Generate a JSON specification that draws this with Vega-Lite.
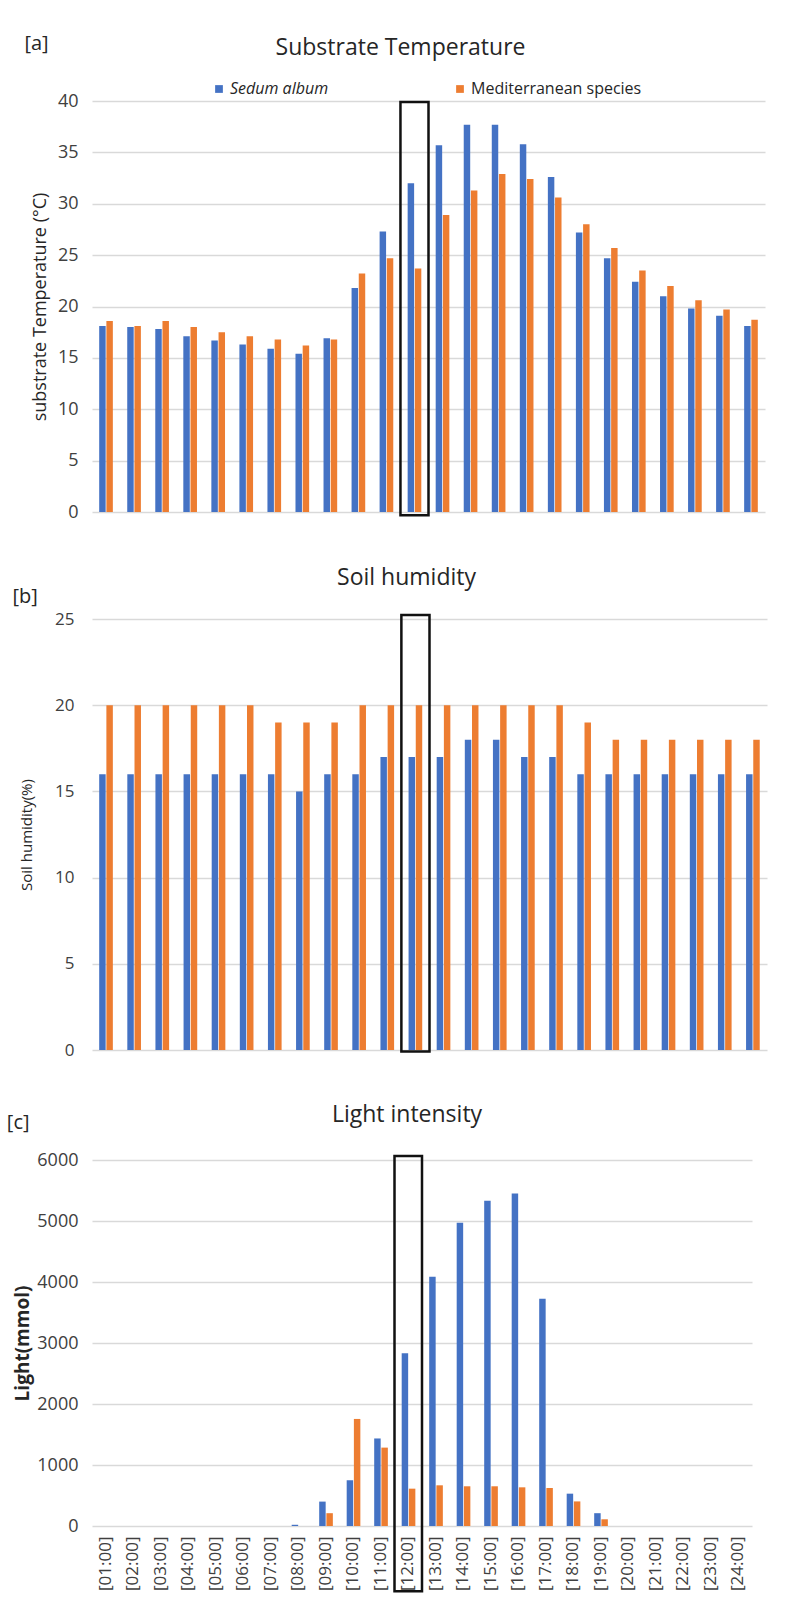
{
  "$schema": "https://vega.github.io/schema/vega-lite/v6.json",
  "background": "white",
  "padding": {"left": 6, "top": 34, "right": 5, "bottom": 5},
  "spacing": 46,
  "config": {
    "font": "Open Sans",
    "view": {"stroke": null},
    "title": {"fontWeight": "normal", "color": "#262626", "font": "Open Sans"},
    "axis": {
      "labelFont": "Open Sans",
      "labelColor": "#404040",
      "labelFontSize": 18,
      "titleFont": "Open Sans",
      "titleColor": "#262626",
      "titleFontSize": 15,
      "titleFontWeight": "normal",
      "gridColor": "#d9d9d9",
      "gridWidth": 1.5,
      "domain": false,
      "ticks": false
    }
  },
  "datasets": {
    "temp": [
      {"hour": "[01:00]", "series": "Sedum album", "value": 18.1}, {"hour": "[01:00]", "series": "Mediterranean species", "value": 18.6},
      {"hour": "[02:00]", "series": "Sedum album", "value": 18.0}, {"hour": "[02:00]", "series": "Mediterranean species", "value": 18.1},
      {"hour": "[03:00]", "series": "Sedum album", "value": 17.8}, {"hour": "[03:00]", "series": "Mediterranean species", "value": 18.6},
      {"hour": "[04:00]", "series": "Sedum album", "value": 17.1}, {"hour": "[04:00]", "series": "Mediterranean species", "value": 18.0},
      {"hour": "[05:00]", "series": "Sedum album", "value": 16.7}, {"hour": "[05:00]", "series": "Mediterranean species", "value": 17.5},
      {"hour": "[06:00]", "series": "Sedum album", "value": 16.3}, {"hour": "[06:00]", "series": "Mediterranean species", "value": 17.1},
      {"hour": "[07:00]", "series": "Sedum album", "value": 15.9}, {"hour": "[07:00]", "series": "Mediterranean species", "value": 16.8},
      {"hour": "[08:00]", "series": "Sedum album", "value": 15.4}, {"hour": "[08:00]", "series": "Mediterranean species", "value": 16.2},
      {"hour": "[09:00]", "series": "Sedum album", "value": 16.9}, {"hour": "[09:00]", "series": "Mediterranean species", "value": 16.8},
      {"hour": "[10:00]", "series": "Sedum album", "value": 21.8}, {"hour": "[10:00]", "series": "Mediterranean species", "value": 23.2},
      {"hour": "[11:00]", "series": "Sedum album", "value": 27.3}, {"hour": "[11:00]", "series": "Mediterranean species", "value": 24.7},
      {"hour": "[12:00]", "series": "Sedum album", "value": 32.0}, {"hour": "[12:00]", "series": "Mediterranean species", "value": 23.7},
      {"hour": "[13:00]", "series": "Sedum album", "value": 35.7}, {"hour": "[13:00]", "series": "Mediterranean species", "value": 28.9},
      {"hour": "[14:00]", "series": "Sedum album", "value": 37.7}, {"hour": "[14:00]", "series": "Mediterranean species", "value": 31.3},
      {"hour": "[15:00]", "series": "Sedum album", "value": 37.7}, {"hour": "[15:00]", "series": "Mediterranean species", "value": 32.9},
      {"hour": "[16:00]", "series": "Sedum album", "value": 35.8}, {"hour": "[16:00]", "series": "Mediterranean species", "value": 32.4},
      {"hour": "[17:00]", "series": "Sedum album", "value": 32.6}, {"hour": "[17:00]", "series": "Mediterranean species", "value": 30.6},
      {"hour": "[18:00]", "series": "Sedum album", "value": 27.2}, {"hour": "[18:00]", "series": "Mediterranean species", "value": 28.0},
      {"hour": "[19:00]", "series": "Sedum album", "value": 24.7}, {"hour": "[19:00]", "series": "Mediterranean species", "value": 25.7},
      {"hour": "[20:00]", "series": "Sedum album", "value": 22.4}, {"hour": "[20:00]", "series": "Mediterranean species", "value": 23.5},
      {"hour": "[21:00]", "series": "Sedum album", "value": 21.0}, {"hour": "[21:00]", "series": "Mediterranean species", "value": 22.0},
      {"hour": "[22:00]", "series": "Sedum album", "value": 19.8}, {"hour": "[22:00]", "series": "Mediterranean species", "value": 20.6},
      {"hour": "[23:00]", "series": "Sedum album", "value": 19.1}, {"hour": "[23:00]", "series": "Mediterranean species", "value": 19.7},
      {"hour": "[24:00]", "series": "Sedum album", "value": 18.1}, {"hour": "[24:00]", "series": "Mediterranean species", "value": 18.7}
    ],
    "hum": [
      {"hour": "[01:00]", "series": "Sedum album", "value": 16}, {"hour": "[01:00]", "series": "Mediterranean species", "value": 20},
      {"hour": "[02:00]", "series": "Sedum album", "value": 16}, {"hour": "[02:00]", "series": "Mediterranean species", "value": 20},
      {"hour": "[03:00]", "series": "Sedum album", "value": 16}, {"hour": "[03:00]", "series": "Mediterranean species", "value": 20},
      {"hour": "[04:00]", "series": "Sedum album", "value": 16}, {"hour": "[04:00]", "series": "Mediterranean species", "value": 20},
      {"hour": "[05:00]", "series": "Sedum album", "value": 16}, {"hour": "[05:00]", "series": "Mediterranean species", "value": 20},
      {"hour": "[06:00]", "series": "Sedum album", "value": 16}, {"hour": "[06:00]", "series": "Mediterranean species", "value": 20},
      {"hour": "[07:00]", "series": "Sedum album", "value": 16}, {"hour": "[07:00]", "series": "Mediterranean species", "value": 19},
      {"hour": "[08:00]", "series": "Sedum album", "value": 15}, {"hour": "[08:00]", "series": "Mediterranean species", "value": 19},
      {"hour": "[09:00]", "series": "Sedum album", "value": 16}, {"hour": "[09:00]", "series": "Mediterranean species", "value": 19},
      {"hour": "[10:00]", "series": "Sedum album", "value": 16}, {"hour": "[10:00]", "series": "Mediterranean species", "value": 20},
      {"hour": "[11:00]", "series": "Sedum album", "value": 17}, {"hour": "[11:00]", "series": "Mediterranean species", "value": 20},
      {"hour": "[12:00]", "series": "Sedum album", "value": 17}, {"hour": "[12:00]", "series": "Mediterranean species", "value": 20},
      {"hour": "[13:00]", "series": "Sedum album", "value": 17}, {"hour": "[13:00]", "series": "Mediterranean species", "value": 20},
      {"hour": "[14:00]", "series": "Sedum album", "value": 18}, {"hour": "[14:00]", "series": "Mediterranean species", "value": 20},
      {"hour": "[15:00]", "series": "Sedum album", "value": 18}, {"hour": "[15:00]", "series": "Mediterranean species", "value": 20},
      {"hour": "[16:00]", "series": "Sedum album", "value": 17}, {"hour": "[16:00]", "series": "Mediterranean species", "value": 20},
      {"hour": "[17:00]", "series": "Sedum album", "value": 17}, {"hour": "[17:00]", "series": "Mediterranean species", "value": 20},
      {"hour": "[18:00]", "series": "Sedum album", "value": 16}, {"hour": "[18:00]", "series": "Mediterranean species", "value": 19},
      {"hour": "[19:00]", "series": "Sedum album", "value": 16}, {"hour": "[19:00]", "series": "Mediterranean species", "value": 18},
      {"hour": "[20:00]", "series": "Sedum album", "value": 16}, {"hour": "[20:00]", "series": "Mediterranean species", "value": 18},
      {"hour": "[21:00]", "series": "Sedum album", "value": 16}, {"hour": "[21:00]", "series": "Mediterranean species", "value": 18},
      {"hour": "[22:00]", "series": "Sedum album", "value": 16}, {"hour": "[22:00]", "series": "Mediterranean species", "value": 18},
      {"hour": "[23:00]", "series": "Sedum album", "value": 16}, {"hour": "[23:00]", "series": "Mediterranean species", "value": 18},
      {"hour": "[24:00]", "series": "Sedum album", "value": 16}, {"hour": "[24:00]", "series": "Mediterranean species", "value": 18}
    ],
    "light": [
      {"hour": "[01:00]", "series": "Sedum album", "value": 0}, {"hour": "[01:00]", "series": "Mediterranean species", "value": 0},
      {"hour": "[02:00]", "series": "Sedum album", "value": 0}, {"hour": "[02:00]", "series": "Mediterranean species", "value": 0},
      {"hour": "[03:00]", "series": "Sedum album", "value": 0}, {"hour": "[03:00]", "series": "Mediterranean species", "value": 0},
      {"hour": "[04:00]", "series": "Sedum album", "value": 0}, {"hour": "[04:00]", "series": "Mediterranean species", "value": 0},
      {"hour": "[05:00]", "series": "Sedum album", "value": 0}, {"hour": "[05:00]", "series": "Mediterranean species", "value": 0},
      {"hour": "[06:00]", "series": "Sedum album", "value": 0}, {"hour": "[06:00]", "series": "Mediterranean species", "value": 0},
      {"hour": "[07:00]", "series": "Sedum album", "value": 0}, {"hour": "[07:00]", "series": "Mediterranean species", "value": 0},
      {"hour": "[08:00]", "series": "Sedum album", "value": 20}, {"hour": "[08:00]", "series": "Mediterranean species", "value": 0},
      {"hour": "[09:00]", "series": "Sedum album", "value": 400}, {"hour": "[09:00]", "series": "Mediterranean species", "value": 210},
      {"hour": "[10:00]", "series": "Sedum album", "value": 750}, {"hour": "[10:00]", "series": "Mediterranean species", "value": 1755},
      {"hour": "[11:00]", "series": "Sedum album", "value": 1435}, {"hour": "[11:00]", "series": "Mediterranean species", "value": 1285},
      {"hour": "[12:00]", "series": "Sedum album", "value": 2830}, {"hour": "[12:00]", "series": "Mediterranean species", "value": 612},
      {"hour": "[13:00]", "series": "Sedum album", "value": 4085}, {"hour": "[13:00]", "series": "Mediterranean species", "value": 667},
      {"hour": "[14:00]", "series": "Sedum album", "value": 4970}, {"hour": "[14:00]", "series": "Mediterranean species", "value": 651},
      {"hour": "[15:00]", "series": "Sedum album", "value": 5330}, {"hour": "[15:00]", "series": "Mediterranean species", "value": 651},
      {"hour": "[16:00]", "series": "Sedum album", "value": 5450}, {"hour": "[16:00]", "series": "Mediterranean species", "value": 634},
      {"hour": "[17:00]", "series": "Sedum album", "value": 3725}, {"hour": "[17:00]", "series": "Mediterranean species", "value": 623},
      {"hour": "[18:00]", "series": "Sedum album", "value": 530}, {"hour": "[18:00]", "series": "Mediterranean species", "value": 403},
      {"hour": "[19:00]", "series": "Sedum album", "value": 210}, {"hour": "[19:00]", "series": "Mediterranean species", "value": 110},
      {"hour": "[20:00]", "series": "Sedum album", "value": 0}, {"hour": "[20:00]", "series": "Mediterranean species", "value": 0},
      {"hour": "[21:00]", "series": "Sedum album", "value": 0}, {"hour": "[21:00]", "series": "Mediterranean species", "value": 0},
      {"hour": "[22:00]", "series": "Sedum album", "value": 0}, {"hour": "[22:00]", "series": "Mediterranean species", "value": 0},
      {"hour": "[23:00]", "series": "Sedum album", "value": 0}, {"hour": "[23:00]", "series": "Mediterranean species", "value": 0},
      {"hour": "[24:00]", "series": "Sedum album", "value": 0}, {"hour": "[24:00]", "series": "Mediterranean species", "value": 0}
    ],
    "boxA": [{"hour": "[12:00]", "top": 39.9, "bottom": -0.32}],
    "boxB": [{"hour": "[12:00]", "top": 25.23, "bottom": -0.08}],
    "boxC": [{"hour": "[12:00]", "top": 6065, "bottom": -1070}]
  },
  "resolve": {"scale": {"color": "independent"}, "legend": {"color": "independent"}},
  "vconcat": [
    {
      "title": {"text": "[a]", "anchor": "start", "fontSize": 20, "dx": -7, "dy": 17, "offset": 0},
      "vconcat": [
        {
          "width": 673,
          "height": 411,
          "title": {"text": "Substrate Temperature", "fontSize": 23, "offset": 32, "dx": -28},
          "layer": [
            {
              "data": {"name": "temp"},
              "mark": {"type": "bar"},
              "encoding": {
                "x": {"field": "hour", "type": "nominal", "title": null, "axis": {"labels": false, "ticks": false, "domain": false, "grid": false, "minExtent": 4, "maxExtent": 4}, "scale": {"paddingInner": 0, "paddingOuter": 0}},
                "xOffset": {"field": "series", "type": "nominal", "sort": ["Sedum album", "Mediterranean species"], "scale": {"paddingInner": 0.1, "paddingOuter": 1.13}},
                "y": {"field": "value", "type": "quantitative", "scale": {"domain": [0, 40], "nice": false}, "axis": {"values": [0, 5, 10, 15, 20, 25, 30, 35, 40], "title": "substrate Temperature (°C)", "titleFontSize": 18, "titlePadding": 8, "labelPadding": 14}},
                "color": {
                  "field": "series", "type": "nominal",
                  "scale": {"domain": ["Sedum album", "Mediterranean species"], "range": ["#4472C4", "#ED7D31"]},
                  "legend": {
                    "title": null, "orient": "none", "legendX": 119, "legendY": -20, "direction": "horizontal",
                    "columns": 2, "columnPadding": 123, "symbolType": "square", "symbolSize": 60, "symbolStrokeWidth": 0,
                    "labelFontSize": 16, "labelFont": "Open Sans", "labelColor": "#262626", "labelOffset": 3, "labelLimit": 400,
                    "encode": {"labels": {"update": {"fontStyle": {"signal": "datum.label === 'Sedum album' ? 'italic' : 'normal'"}}}}
                  }
                }
              }
            },
            {
              "data": {"name": "boxA"},
              "mark": {"type": "rect", "fill": null, "stroke": "#111111", "strokeWidth": 2.5},
              "encoding": {
                "x": {"field": "hour", "type": "nominal"},
                "y": {"field": "top", "type": "quantitative"},
                "y2": {"field": "bottom"}
              }
            }
          ]
        }
      ]
    },
    {
      "title": {"text": "[b]", "anchor": "start", "fontSize": 20, "dx": -7, "dy": 40, "offset": 0},
      "vconcat": [
        {
          "width": 675,
          "height": 431,
          "title": {"text": "Soil humidity", "fontSize": 23, "offset": 20, "dx": -23},
          "layer": [
            {
              "data": {"name": "hum"},
              "mark": {"type": "bar"},
              "encoding": {
                "x": {"field": "hour", "type": "nominal", "axis": null, "scale": {"paddingInner": 0, "paddingOuter": 0}},
                "xOffset": {"field": "series", "type": "nominal", "sort": ["Sedum album", "Mediterranean species"], "scale": {"paddingInner": 0.1, "paddingOuter": 1.13}},
                "y": {"field": "value", "type": "quantitative", "scale": {"domain": [0, 25], "nice": false}, "axis": {"values": [0, 5, 10, 15, 20, 25], "title": "Soil humidity(%)", "labelFontSize": 17, "titlePadding": 20, "labelPadding": 18}},
                "color": {
                  "field": "series", "type": "nominal",
                  "scale": {"domain": ["Sedum album", "Mediterranean species"], "range": ["#4472C4", "#ED7D31"]},
                  "legend": null
                }
              }
            },
            {
              "data": {"name": "boxB"},
              "mark": {"type": "rect", "fill": null, "stroke": "#111111", "strokeWidth": 2.5},
              "encoding": {
                "x": {"field": "hour", "type": "nominal"},
                "y": {"field": "top", "type": "quantitative"},
                "y2": {"field": "bottom"}
              }
            }
          ]
        }
      ]
    },
    {
      "title": {"text": "[c]", "anchor": "start", "fontSize": 20, "dx": -7, "dy": 29, "offset": 0},
      "vconcat": [
        {
          "width": 660,
          "height": 366,
          "title": {"text": "Light intensity", "fontSize": 23, "offset": 24, "dx": -15},
          "layer": [
            {
              "data": {"name": "light"},
              "mark": {"type": "bar"},
              "encoding": {
                "x": {"field": "hour", "type": "nominal", "title": null, "scale": {"paddingInner": 0, "paddingOuter": 0}, "axis": {"labelAngle": -90, "labelFontSize": 17, "labelPadding": 10, "labelColor": "#404040"}},
                "xOffset": {"field": "series", "type": "nominal", "sort": ["Sedum album", "Mediterranean species"], "scale": {"paddingInner": 0.1, "paddingOuter": 1.13}},
                "y": {"field": "value", "type": "quantitative", "scale": {"domain": [0, 6000], "nice": false}, "axis": {"values": [0, 1000, 2000, 3000, 4000, 5000, 6000], "format": "d", "title": "Light(mmol)", "titleFontWeight": "bold", "titleFontSize": 19, "titlePadding": 4, "labelPadding": 14}},
                "color": {
                  "field": "series", "type": "nominal",
                  "scale": {"domain": ["Sedum album", "Mediterranean species"], "range": ["#4472C4", "#ED7D31"]},
                  "legend": null
                }
              }
            },
            {
              "data": {"name": "boxC"},
              "mark": {"type": "rect", "fill": null, "stroke": "#111111", "strokeWidth": 2.5},
              "encoding": {
                "x": {"field": "hour", "type": "nominal"},
                "y": {"field": "top", "type": "quantitative"},
                "y2": {"field": "bottom"}
              }
            }
          ]
        }
      ]
    }
  ]
}
